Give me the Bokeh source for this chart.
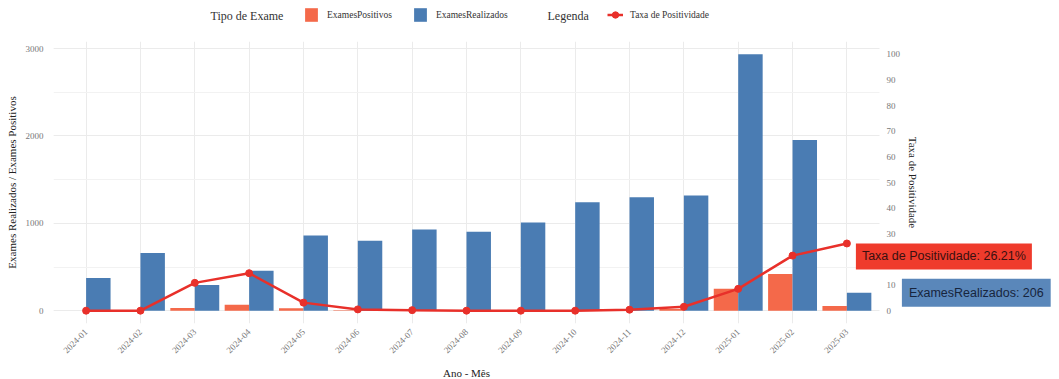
import math

from bokeh.embed import file_html
from bokeh.layouts import column
from bokeh.models import (BoxAnnotation, ColumnDataSource, FixedTicker, Label, Legend,
                          LegendItem, LinearAxis, Range1d, SingleIntervalTicker)
from bokeh.plotting import figure
from bokeh.resources import INLINE
from bokeh.transform import dodge

# Monthly exam counts
meses = ["2024-01", "2024-02", "2024-03", "2024-04", "2024-05", "2024-06", "2024-07",
         "2024-08", "2024-09", "2024-10", "2024-11", "2024-12", "2025-01", "2025-02",
         "2025-03"]
exames_realizados = [375, 660, 295, 458, 860, 800, 930, 905, 1010, 1240, 1300, 1320,
                     2935, 1955, 206]
exames_positivos = [0, 0, 32, 67, 27, 4, 2, 0, 0, 0, 5, 20, 250, 420, 54]
taxa_positividade = [100.0 * p / r for p, r in zip(exames_positivos, exames_realizados)]

COR_POS = "#F4694A"
COR_REAL = "#4A7CB3"
COR_TAXA = "#E8302A"
SERIF = "Liberation Serif"
SANS = "Liberation Sans"
W, H_TOPO, H = 1059, 41, 379
BORDA_ESQ = 53          # left border of the plotting frame
LARG_PAINEL = 826       # pixel width of the bar panel (right axis sits at its edge)

# ---------------------------------------------------------------- legend strip
topo = figure(width=W, height=H_TOPO, output_backend="svg", toolbar_location=None,
              x_range=Range1d(BORDA_ESQ, W), y_range=Range1d(0, H_TOPO),
              x_axis_type=None, y_axis_type=None, min_border_left=BORDA_ESQ,
              min_border_right=0, min_border_top=0, min_border_bottom=0)
topo.outline_line_color = None
amostra = ColumnDataSource(dict(x=[0], y=[0]))
kw_oculto = dict(source=amostra, visible=False)
g_pos = topo.vbar(x="x", top="y", width=1, fill_color=COR_POS, line_color=None, **kw_oculto)
g_real = topo.vbar(x="x", top="y", width=1, fill_color=COR_REAL, line_color=None, **kw_oculto)
g_line = topo.line(x="x", y="y", line_color=COR_TAXA, line_width=2.5, **kw_oculto)
g_pts = topo.scatter(x="x", y="y", size=6, fill_color=COR_TAXA, line_color=COR_TAXA,
                     **kw_oculto)

leg_tipo = Legend(items=[LegendItem(label="ExamesPositivos", renderers=[g_pos]),
                         LegendItem(label="ExamesRealizados", renderers=[g_real])],
                  orientation="horizontal", location=(303 - BORDA_ESQ, 18),
                  glyph_width=16, label_standoff=8, spacing=20)
leg_taxa = Legend(items=[LegendItem(label="Taxa de Positividade",
                                    renderers=[g_line, g_pts])],
                  orientation="horizontal", location=(607 - BORDA_ESQ, 18),
                  glyph_width=16, label_standoff=7)
for lg in [leg_tipo, leg_taxa]:
    lg.border_line_color = None
    lg.background_fill_alpha = 0
    lg.inactive_fill_alpha = 0
    lg.padding = 0
    lg.margin = 0
    lg.label_text_font = SERIF
    lg.label_text_font_size = "9.5px"
    lg.label_text_color = "#333333"
    lg.glyph_height = 17
    lg.label_height = 17
    topo.add_layout(lg, "center")

for titulo, x0 in [("Tipo de Exame", 210), ("Legenda", 547)]:
    topo.add_layout(Label(x=x0, y=H_TOPO - 15, text=titulo, text_font=SERIF,
                          text_font_size="12px", text_color="#333333",
                          text_baseline="middle", text_align="left"))

# ---------------------------------------------------------------- main chart
idx = list(range(len(meses)))
src = ColumnDataSource(dict(i=idx, mes=meses, real=exames_realizados,
                            pos=exames_positivos, taxa=taxa_positividade))

ymax = max(exames_realizados)
pad = 0.05 * ymax
escala = ymax / 100.0  # secondary axis: taxa * escala on the count scale

# discrete axis expanded by 0.6 on each side; frame continues to the page edge
x_ini = -0.6
x_borda = len(meses) - 1 + 0.6
px_por_unid = LARG_PAINEL / (x_borda - x_ini)
x_fim = x_borda + (W - BORDA_ESQ - LARG_PAINEL) / px_por_unid

p = figure(width=W, height=H - H_TOPO, output_backend="svg", toolbar_location=None,
           x_range=Range1d(x_ini, x_fim), y_range=Range1d(-pad, ymax + pad),
           min_border_left=BORDA_ESQ, min_border_right=0, min_border_top=0,
           min_border_bottom=56)
p.extra_y_ranges = {"taxa": Range1d(-pad / escala, (ymax + pad) / escala)}
p.outline_line_color = None

p.vbar(x=dodge("i", -0.225), top="pos", width=0.45, source=src,
       fill_color=COR_POS, line_color=None)
p.vbar(x=dodge("i", 0.225), top="real", width=0.45, source=src,
       fill_color=COR_REAL, line_color=None)
p.line(x="i", y="taxa", source=src, y_range_name="taxa",
       line_color=COR_TAXA, line_width=2.5)
p.scatter(x="i", y="taxa", source=src, y_range_name="taxa", size=7,
          fill_color=COR_TAXA, line_color=COR_TAXA)

# Axes
p.xaxis.ticker = FixedTicker(ticks=idx)
p.xaxis.major_label_overrides = {i: m for i, m in zip(idx, meses)}
p.xaxis.major_label_orientation = math.pi / 4
p.yaxis.ticker = SingleIntervalTicker(interval=1000, num_minor_ticks=2)
p.yaxis.axis_label = "Exames Realizados / Exames Positivos"

eixo_taxa = LinearAxis(y_range_name="taxa", ticker=SingleIntervalTicker(interval=10),
                       axis_label="Taxa de Positividade", fixed_location=x_borda)
p.add_layout(eixo_taxa, "right")

for ax in [p.xaxis[0], p.yaxis[0], eixo_taxa]:
    ax.axis_line_color = None
    ax.major_tick_line_color = None
    ax.minor_tick_line_color = None
    ax.major_tick_out = 0
    ax.minor_tick_out = 0
    ax.major_label_text_font = SERIF
    ax.major_label_text_font_size = "9px"
    ax.major_label_text_color = "#777777"
    ax.axis_label_text_font = SERIF
    ax.axis_label_text_font_size = "11px"
    ax.axis_label_text_font_style = "normal"
    ax.axis_label_text_color = "#222222"
p.yaxis.major_label_standoff = 10
p.yaxis.axis_label_standoff = 5
eixo_taxa.major_label_standoff = 7
eixo_taxa.axis_label_standoff = 4
p.xaxis.major_label_standoff = 7

# x-axis title, centred under the bar panel
p.add_layout(Label(x=(x_ini + x_borda) / 2, y=-pad, y_offset=-49, text="Ano - Mês",
                   text_font=SERIF, text_font_size="11px", text_color="#222222",
                   text_align="center", text_baseline="middle"), "below")

p.xgrid.grid_line_color = "#ebebeb"
p.ygrid.grid_line_color = "#ebebeb"
p.ygrid.minor_grid_line_color = "#f2f2f2"
# the grid stops at the edge of the bar panel
p.add_layout(BoxAnnotation(left=x_borda, fill_color="white", fill_alpha=1,
                           line_color=None, level="underlay"))

# Value labels for the last month
ultimo = len(meses) - 1
p.add_layout(Label(x=ultimo, y=taxa_positividade[ultimo], y_range_name="taxa",
                   x_offset=9, y_offset=-13,
                   text=f"Taxa de Positividade: {taxa_positividade[ultimo]:.2f}%",
                   text_font=SANS, text_font_size="12.5px", text_color="#3a1010",
                   text_baseline="middle", text_align="left",
                   background_fill_color="#EF3B2C", padding=6))
p.add_layout(Label(x=ultimo, y=exames_realizados[ultimo],
                   x_offset=55, y_offset=0,
                   text=f"ExamesRealizados: {exames_realizados[ultimo]}",
                   text_font=SANS, text_font_size="12.5px", text_color="#17253d",
                   text_baseline="middle", text_align="left",
                   background_fill_color="#5A87BA", padding=7))

layout = column(topo, p, spacing=0)
open("out.html", "w").write(file_html(layout, INLINE))
